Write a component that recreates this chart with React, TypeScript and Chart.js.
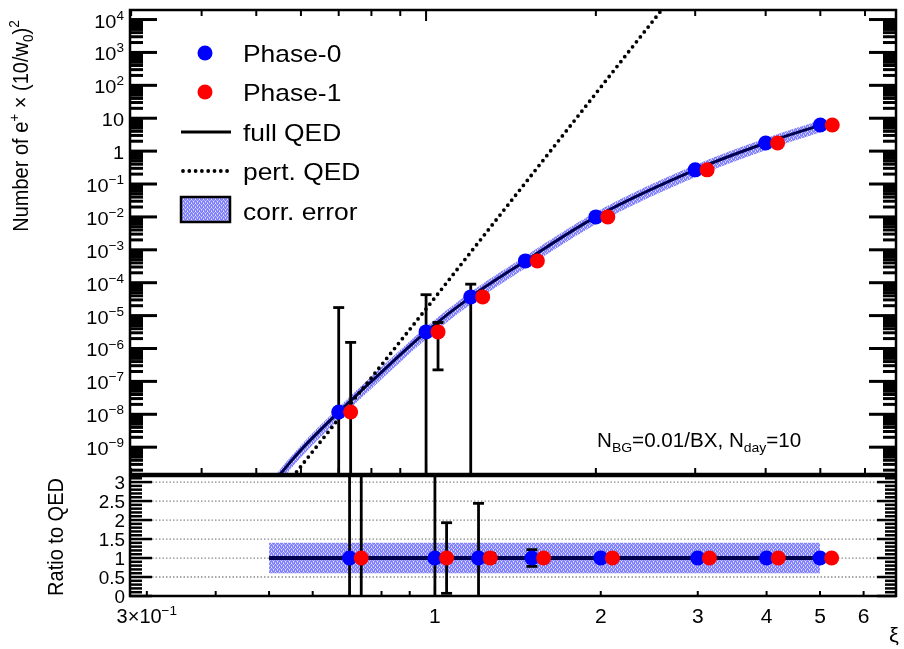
import React, { useEffect, useRef } from 'react';
import { Chart, registerables } from 'chart.js';
Chart.register(...registerables);

// ---------- data ----------
const phase0Xi = [0.7, 1.0, 1.2, 1.5, 2, 3, 4, 5];
const phase1Xi = [0.735, 1.05, 1.26, 1.575, 2.1, 3.15, 4.2, 5.25];
const positronYield = [1.17e-8, 3.2e-6, 3.7e-5, 4.6e-4, 1.0e-2, 0.27, 1.77, 6.2];
const phase0RelErr = [1500, 12.5, 1.44, 0.22, 0.05, 0.02, 0.01, 0.005];
const phase1RelErr = [130, 0.93, 0.12, 0.1, 0.03, 0.015, 0.008, 0.004];
const qedXi = [0.5, 0.6, 0.7, 0.8, 1.0, 1.2, 1.5, 2, 3, 4, 5];
const qedYield = [2.0e-11, 8.2e-10, 1.17e-8, 1.0e-7, 3.2e-6, 3.7e-5, 4.6e-4, 1.0e-2, 0.27, 1.77, 6.2];
const pertXi = [0.58, 1.0, 2.7];
const pertYield = [1.26e-10, 1.6e-5, 3.9e4];
const corrErrUp = 0.4;
const corrErrDown = 0.4;
const ratioLineXi = [0.5, 5];
const yExponents = [4, 3, 2, 1, 0, -1, -2, -3, -4, -5, -6, -7, -8, -9];
const ratioTicks = [0, 0.5, 1, 1.5, 2, 2.5, 3];
const ratioGrid = [0.5, 1, 1.5, 2, 2.5, 3];
const xTickVals = [0.3, 0.4, 0.5, 0.6, 0.7, 0.8, 0.9, 1, 2, 3, 4, 5, 6];
const xLabelVals = [1, 2, 3, 4, 5, 6];

type Seg = { t: string; k?: 'sup' | 'sub' };
const FONT = (s: number) => `${s}px "Liberation Sans", Arial, Helvetica, sans-serif`;

function drawRich(ctx: CanvasRenderingContext2D, segs: Seg[], x: number, y: number, size: number,
  align: 'left' | 'right' | 'center', sx = 1, rot = false) {
  const ws: number[] = [];
  let w = 0;
  for (const s of segs) {
    ctx.font = FONT(s.k ? size * 0.68 : size);
    const m = ctx.measureText(s.t).width;
    ws.push(m); w += m;
  }
  ctx.save();
  ctx.translate(x, y);
  ctx.scale(sx, 1);
  if (rot) ctx.rotate(-Math.PI / 2);
  let cx = align === 'left' ? 0 : align === 'right' ? -w : -w / 2;
  ctx.fillStyle = '#000';
  ctx.textAlign = 'left';
  ctx.textBaseline = 'alphabetic';
  segs.forEach((s, i) => {
    ctx.font = FONT(s.k ? size * 0.68 : size);
    const dy = s.k === 'sup' ? -size * 0.42 : s.k === 'sub' ? size * 0.25 : 0;
    ctx.fillText(s.t, cx, dy);
    cx += ws[i];
  });
  ctx.restore();
}

function seg(ctx: CanvasRenderingContext2D, x1: number, y1: number, x2: number, y2: number) {
  ctx.beginPath(); ctx.moveTo(x1, y1); ctx.lineTo(x2, y2); ctx.stroke();
}

function makePattern(ctx: CanvasRenderingContext2D) {
  const c = document.createElement('canvas');
  c.width = 4; c.height = 4;
  const g = c.getContext('2d')!;
  g.fillStyle = '#8080ff'; g.fillRect(0, 0, 4, 4);
  g.fillStyle = '#b8b8ff';
  g.fillRect(0, 0, 1, 1); g.fillRect(2, 0, 1, 1); g.fillRect(1, 2, 1, 1); g.fillRect(3, 2, 1, 1);
  g.fillStyle = '#e4e4ff'; g.fillRect(1, 1, 1, 1); g.fillRect(3, 3, 1, 1);
  return ctx.createPattern(c, 'repeat')!;
}

function errBars(isTop: boolean) {
  return {
    id: 'errbars',
    beforeDatasetDraw(chart: any, args: any) {
      if (chart.data.datasets[args.index].label !== 'Phase-0') return;
      const { ctx, chartArea: ca } = chart;
      const x = chart.scales.x, y = chart.scales.y;
      ctx.save();
      ctx.beginPath(); ctx.rect(ca.left, ca.top, ca.right - ca.left, ca.bottom - ca.top); ctx.clip();
      ctx.strokeStyle = '#000'; ctx.lineWidth = 2.8; ctx.lineCap = 'butt';
      const series: [number[], number[]][] = [[phase0Xi, phase0RelErr], [phase1Xi, phase1RelErr]];
      for (const [xs, errs] of series) {
        xs.forEach((xv, i) => {
          const c = isTop ? positronYield[i] : 1;
          const hi = c * (1 + errs[i]);
          const lo = c * (1 - errs[i]);
          const px = x.getPixelForValue(xv);
          const pyHi = Math.max(y.getPixelForValue(hi), ca.top - 50);
          const pyLo = (isTop && lo <= 0) ? ca.bottom + 20 : Math.min(y.getPixelForValue(lo), ca.bottom + 50);
          seg(ctx, px, pyHi, px, pyLo);
          seg(ctx, px - 5.5, pyHi, px + 5.5, pyHi);
          if (!(isTop && lo <= 0)) seg(ctx, px - 5.5, pyLo, px + 5.5, pyLo);
        });
      }
      ctx.restore();
    },
  };
}

const topDecor = {
  id: 'topDecor',
  afterDraw(chart: any) {
    const { ctx, chartArea: ca } = chart;
    const x = chart.scales.x, y = chart.scales.y;
    const pat = makePattern(ctx);
    ctx.save();
    ctx.strokeStyle = '#000';
    // y ticks (log)
    ctx.lineWidth = 3;
    for (let e = -10; e <= 4; e++) {
      for (let m = 1; m <= 9; m++) {
        const v = m * Math.pow(10, e);
        if (v < y.min || v > y.max) continue;
        const py = y.getPixelForValue(v);
        const len = m === 1 ? 27 : 13;
        seg(ctx, ca.left, py, ca.left + len, py);
        seg(ctx, ca.right - len, py, ca.right, py);
      }
    }
    // x ticks
    ctx.lineWidth = 2;
    for (const v of xTickVals) {
      const px = x.getPixelForValue(v);
      if (px < ca.left + 1 || px > ca.right - 1) continue;
      const len = v === 1 ? 11 : 6;
      seg(ctx, px, ca.top, px, ca.top + len);
      seg(ctx, px, ca.bottom, px, ca.bottom - len);
    }
    // frame
    ctx.lineWidth = 2.5;
    ctx.strokeRect(ca.left, ca.top, ca.right - ca.left, ca.bottom - ca.top);
    ctx.restore();

    // y tick labels
    for (const e of yExponents) {
      const py = y.getPixelForValue(Math.pow(10, e));
      const segs: Seg[] = e === 0 ? [{ t: '1' }] : e === 1 ? [{ t: '10' }]
        : [{ t: '10' }, { t: e < 0 ? '\u2212' + (-e) : String(e), k: 'sup' }];
      drawRich(ctx, segs, 124, py + 8, 19, 'right', 1.05);
    }

    // legend
    ctx.save();
    ctx.fillStyle = '#0000ff';
    ctx.beginPath(); ctx.arc(205, 53, 7.5, 0, Math.PI * 2); ctx.fill();
    ctx.fillStyle = '#ff0000';
    ctx.beginPath(); ctx.arc(205, 92, 7.5, 0, Math.PI * 2); ctx.fill();
    ctx.strokeStyle = '#000';
    ctx.lineWidth = 3;
    seg(ctx, 181, 132, 231, 132);
    ctx.setLineDash([0, 6.3]); ctx.lineCap = 'round'; ctx.lineWidth = 3.8;
    seg(ctx, 183, 171, 231, 171);
    ctx.setLineDash([]); ctx.lineCap = 'butt';
    ctx.fillStyle = pat;
    ctx.fillRect(181, 197, 49, 25);
    ctx.lineWidth = 2.5;
    ctx.strokeRect(181, 197, 49, 25);
    ctx.restore();
    drawRich(ctx, [{ t: 'Phase-0' }], 243, 62, 24, 'left', 1.1);
    drawRich(ctx, [{ t: 'Phase-1' }], 243, 101, 24, 'left', 1.1);
    drawRich(ctx, [{ t: 'full QED' }], 243, 141, 24, 'left', 1.1);
    drawRich(ctx, [{ t: 'pert. QED' }], 243, 180, 24, 'left', 1.1);
    drawRich(ctx, [{ t: 'corr. error' }], 243, 220, 24, 'left', 1.1);

    // annotation
    drawRich(ctx, [{ t: 'N' }, { t: 'BG', k: 'sub' }, { t: '=0.01/BX, N' }, { t: 'day', k: 'sub' }, { t: '=10' }],
      597, 447, 20, 'left', 1.03);

    // y title
    drawRich(ctx, [{ t: 'Number of e' }, { t: '+', k: 'sup' }, { t: ' \u00d7 (10/w' }, { t: '0', k: 'sub' }, { t: ')' }, { t: '2', k: 'sup' }],
      28, 126, 20, 'center', 1.08, true);
  },
};

const bottomDecor = {
  id: 'bottomDecor',
  beforeDatasetsDraw(chart: any) {
    const { ctx, chartArea: ca } = chart;
    const y = chart.scales.y;
    ctx.save();
    ctx.strokeStyle = '#8a8a8a'; ctx.lineWidth = 1.3; ctx.setLineDash([1.5, 2]);
    for (const v of ratioGrid) {
      const py = y.getPixelForValue(v);
      seg(ctx, ca.left + 22, py, ca.right - 19, py);
    }
    ctx.restore();
  },
  afterDraw(chart: any) {
    const { ctx, chartArea: ca } = chart;
    const x = chart.scales.x, y = chart.scales.y;
    ctx.save();
    ctx.strokeStyle = '#000';
    ctx.lineWidth = 2.5;
    for (let v = 0; v <= 3.15; v += 0.1) {
      const vv = Math.round(v * 10) / 10;
      const py = y.getPixelForValue(vv);
      const major = Math.abs(vv * 2 - Math.round(vv * 2)) < 1e-6;
      seg(ctx, ca.left, py, ca.left + (major ? 22 : 12), py);
      seg(ctx, ca.right - (major ? 19 : 11), py, ca.right, py);
    }
    ctx.lineWidth = 2;
    for (const v of xTickVals) {
      const px = x.getPixelForValue(v);
      if (px < ca.left + 1 || px > ca.right - 1) continue;
      const len = v === 1 ? 10 : 5;
      seg(ctx, px, ca.bottom, px, ca.bottom - len);
    }
    ctx.lineWidth = 2.5;
    ctx.strokeRect(ca.left, ca.top, ca.right - ca.left, ca.bottom - ca.top);
    ctx.restore();

    for (const v of ratioTicks) {
      drawRich(ctx, [{ t: String(v) }], 125, y.getPixelForValue(v) + 6.5, 18, 'right', 1.05);
    }
    drawRich(ctx, [{ t: '3\u00d710' }, { t: '\u22121', k: 'sup' }], x.getPixelForValue(0.3), 623, 20, 'center', 1.0);
    for (const v of xLabelVals) {
      drawRich(ctx, [{ t: String(v) }], x.getPixelForValue(v), 623, 20, 'center', 1.05);
    }
    drawRich(ctx, [{ t: '\u03be' }], 894, 642, 21, 'center', 1.05);
    drawRich(ctx, [{ t: 'Ratio to QED' }], 63, 537, 20, 'center', 1.08, true);
  },
};

export default function App() {
  const topRef = useRef<HTMLCanvasElement>(null);
  const botRef = useRef<HTMLCanvasElement>(null);

  useEffect(() => {
    const tctx = topRef.current!.getContext('2d')!;
    const bctx = botRef.current!.getContext('2d')!;
    const patT = makePattern(tctx);
    const patB = makePattern(bctx);
    const common = { showLine: true, pointRadius: 0, borderColor: 'rgba(0,0,0,0)', borderWidth: 0 };

    const top = new Chart(topRef.current!, {
      type: 'scatter',
      data: {
        datasets: [
          { ...common, label: 'bandUp', data: qedXi.map((v, i) => ({ x: v, y: qedYield[i] * (1 + corrErrUp) })), fill: '+1', backgroundColor: patT, cubicInterpolationMode: 'monotone', order: 6 } as any,
          { ...common, label: 'bandLo', data: qedXi.map((v, i) => ({ x: v, y: qedYield[i] * (1 - corrErrDown) })), fill: false, cubicInterpolationMode: 'monotone', order: 5 } as any,
          { label: 'full QED', showLine: true, data: qedXi.map((v, i) => ({ x: v, y: qedYield[i] })), borderColor: '#000050', borderWidth: 3, pointRadius: 0, cubicInterpolationMode: 'monotone', order: 4 } as any,
          { label: 'pert. QED', showLine: true, data: pertXi.map((v, i) => ({ x: v, y: pertYield[i] })), borderColor: '#000', borderWidth: 3.8, borderDash: [0, 6.3], borderCapStyle: 'round', pointRadius: 0, order: 3 } as any,
          { label: 'Phase-0', data: phase0Xi.map((v, i) => ({ x: v, y: positronYield[i] })), pointRadius: 7.5, pointBackgroundColor: '#0000ff', pointBorderWidth: 0, pointBorderColor: 'rgba(0,0,0,0)', order: 2 } as any,
          { label: 'Phase-1', data: phase1Xi.map((v, i) => ({ x: v, y: positronYield[i] })), pointRadius: 7.5, pointBackgroundColor: '#ff0000', pointBorderWidth: 0, pointBorderColor: 'rgba(0,0,0,0)', order: 1 } as any,
        ],
      },
      options: {
        animation: false, responsive: false, events: [],
        layout: { padding: { left: 130, top: 10, right: 8, bottom: 175 } },
        scales: {
          x: { type: 'logarithmic', min: 0.2986, max: 6.81, display: false },
          y: { type: 'logarithmic', min: 1.53e-10, max: 1.95e4, display: false },
        },
        plugins: { legend: { display: false }, tooltip: { enabled: false } },
      },
      plugins: [errBars(true), topDecor],
    });

    const bot = new Chart(botRef.current!, {
      type: 'scatter',
      data: {
        datasets: [
          { ...common, label: 'bandUp', data: ratioLineXi.map((v) => ({ x: v, y: 1 + corrErrUp })), fill: '+1', backgroundColor: patB, order: 6 } as any,
          { ...common, label: 'bandLo', data: ratioLineXi.map((v) => ({ x: v, y: 1 - corrErrDown })), fill: false, order: 5 } as any,
          { label: 'full QED', showLine: true, data: ratioLineXi.map((v) => ({ x: v, y: 1 })), borderColor: '#000050', borderWidth: 4, pointRadius: 0, order: 4 } as any,
          { label: 'Phase-0', data: phase0Xi.map((v) => ({ x: v, y: 1 })), pointRadius: 7.5, pointBackgroundColor: '#0000ff', pointBorderWidth: 0, pointBorderColor: 'rgba(0,0,0,0)', order: 2 } as any,
          { label: 'Phase-1', data: phase1Xi.map((v) => ({ x: v, y: 1 })), pointRadius: 7.5, pointBackgroundColor: '#ff0000', pointBorderWidth: 0, pointBorderColor: 'rgba(0,0,0,0)', order: 1 } as any,
        ],
      },
      options: {
        animation: false, responsive: false, events: [],
        layout: { padding: { left: 130, top: 476, right: 8, bottom: 53 } },
        scales: {
          x: { type: 'logarithmic', min: 0.2796, max: 6.87, display: false },
          y: { type: 'linear', min: 0, max: 3.16, display: false },
        },
        plugins: { legend: { display: false }, tooltip: { enabled: false } },
      },
      plugins: [bottomDecor, errBars(false)],
    });

    return () => { top.destroy(); bot.destroy(); };
  }, []);

  const cs: React.CSSProperties = { position: 'absolute', left: 0, top: 0, width: 904, height: 649 };
  return (
    <div style={{ position: 'absolute', left: 0, top: 0, width: 904, height: 649, background: '#fff' }}>
      <canvas ref={botRef} width={904} height={649} style={cs} />
      <canvas ref={topRef} width={904} height={649} style={cs} />
    </div>
  );
}
